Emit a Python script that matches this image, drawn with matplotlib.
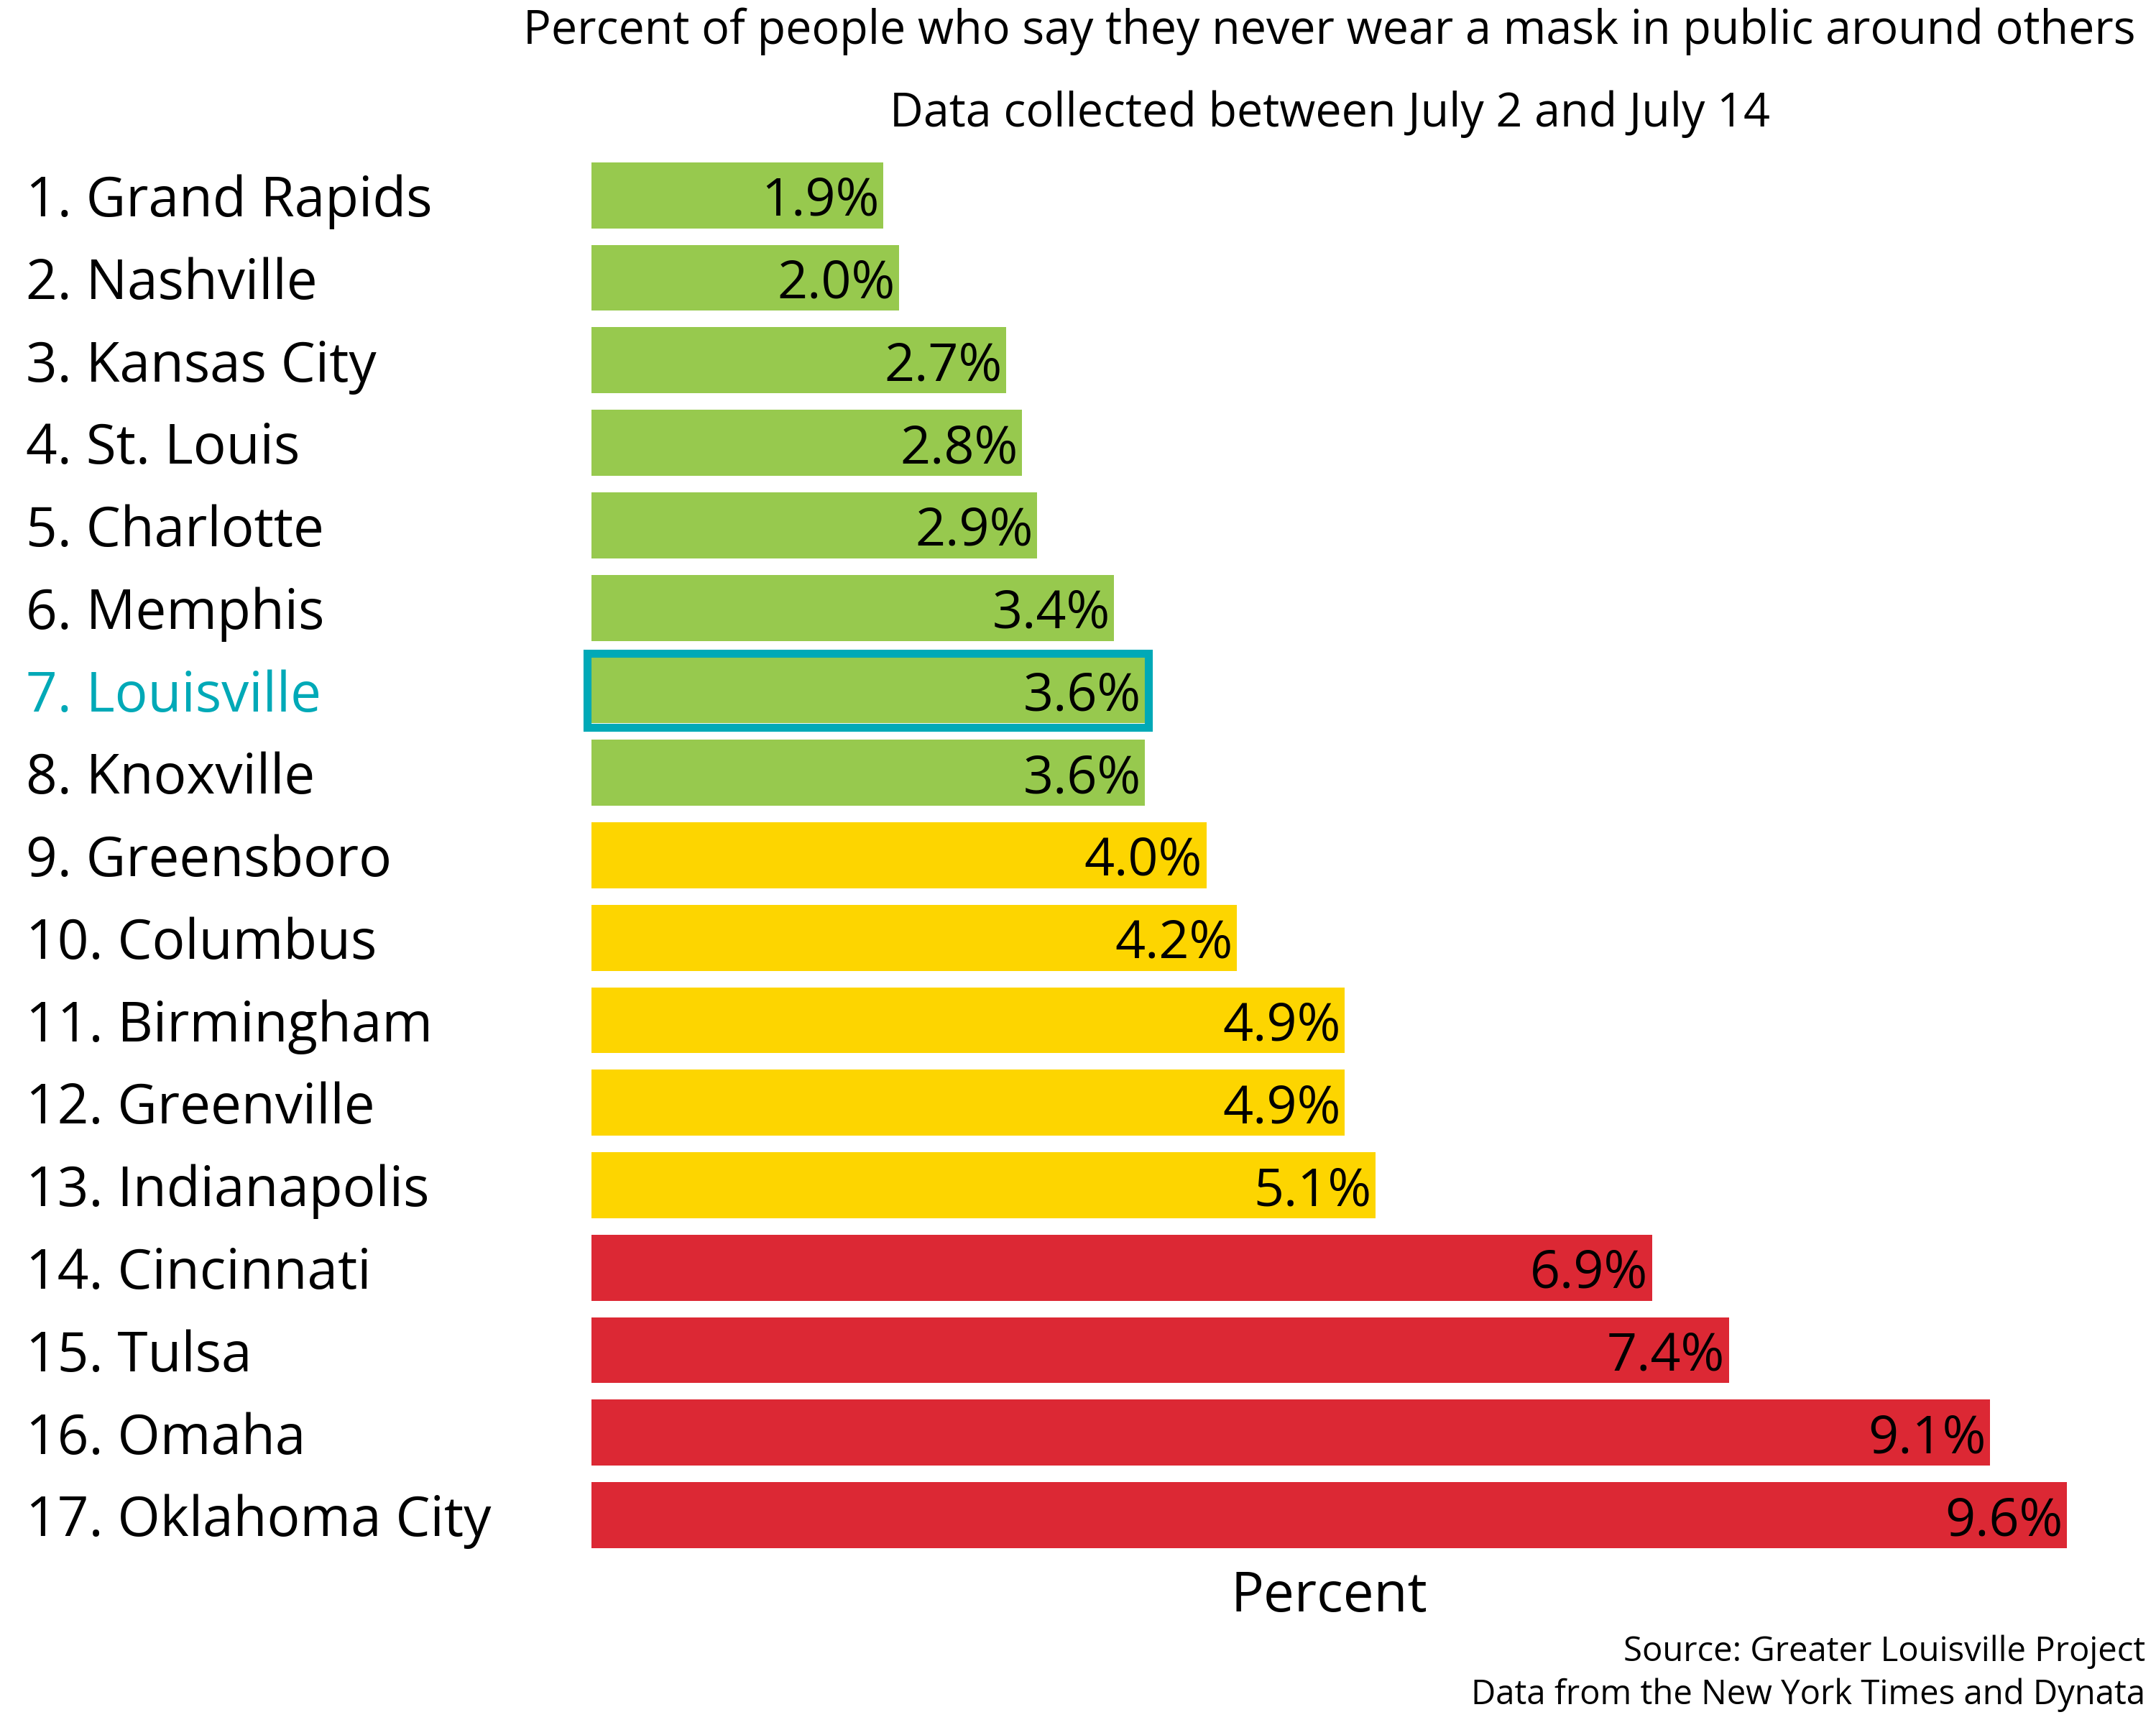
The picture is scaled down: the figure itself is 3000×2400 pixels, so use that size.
import matplotlib.pyplot as plt
from matplotlib.patches import Rectangle
import matplotlib.transforms as mtransforms

plt.rcParams['font.family'] = ['Open Sans', 'DejaVu Sans']

cities = ['Grand Rapids', 'Nashville', 'Kansas City', 'St. Louis', 'Charlotte',
          'Memphis', 'Louisville', 'Knoxville', 'Greensboro', 'Columbus',
          'Birmingham', 'Greenville', 'Indianapolis', 'Cincinnati', 'Tulsa',
          'Omaha', 'Oklahoma City']
pct = [1.9, 2.0, 2.7, 2.8, 2.9, 3.4, 3.6, 3.6, 4.0, 4.2, 4.9, 4.9, 5.1,
       6.9, 7.4, 9.1, 9.6]
# colour group per city: g = green, y = yellow, r = red
groups = ['g'] * 8 + ['y'] * 5 + ['r'] * 4
highlight = 'Louisville'

palette = {'g': '#97C94E', 'y': '#FDD500', 'r': '#DC2834'}
teal = '#00A9B7'

fig = plt.figure(figsize=(30, 24), dpi=100)
ax = fig.add_axes([0.2743, 0.0977, 0.713, 0.813])

ypos = list(range(len(cities)))
colors = [palette[g] for g in groups]
ax.barh(ypos, pct, height=0.8, color=colors, zorder=2)

ax.set_xlim(0, 10)
ax.set_ylim(len(cities) - 0.5, -0.5)
ax.axis('off')

# px -> data conversions for the outline offset
px_x = 10 / (0.713 * 3000)
px_y = 1 / (0.813 * 2400 / len(cities))

label_tr = mtransforms.blended_transform_factory(fig.transFigure, ax.transData)
for i, (c, v) in enumerate(zip(cities, pct)):
    col = teal if c == highlight else 'black'
    ax.text(36 / 3000, i, f'{i + 1}. {c}', transform=label_tr, ha='left',
            va='center_baseline', fontsize=55, color=col)
    ax.annotate(f'{v:.1f}%', xy=(v, i), xytext=(-4, 0), textcoords='offset points',
                ha='right', va='center_baseline', fontsize=53, color='black',
                zorder=4)
    if c == highlight:
        off_x = 5.5 * px_x
        off_y = 5.5 * px_y
        ax.add_patch(Rectangle((-off_x, i - 0.4 - off_y), v + 2 * off_x,
                               0.8 + 2 * off_y, fill=False, edgecolor=teal,
                               linewidth=8, zorder=3, clip_on=False))

fig.text(1850 / 3000, 1 - 44 / 2400, 'Percent of people who say they never wear a mask in public around others',
         ha='center', va='center', fontsize=46.5)
fig.text(1850 / 3000, 1 - 159 / 2400, 'Data collected between July 2 and July 14',
         ha='center', va='center', fontsize=46.5)
fig.text(1849 / 3000, 1 - 2222 / 2400, 'Percent', ha='center', va='center',
         fontsize=55)
fig.text(2985 / 3000, 1 - 2298 / 2400, 'Source: Greater Louisville Project',
         ha='right', va='center', fontsize=34)
fig.text(2985 / 3000, 1 - 2358 / 2400, 'Data from the New York Times and Dynata',
         ha='right', va='center', fontsize=34)

fig.savefig('out.png', dpi=100, facecolor='white')
